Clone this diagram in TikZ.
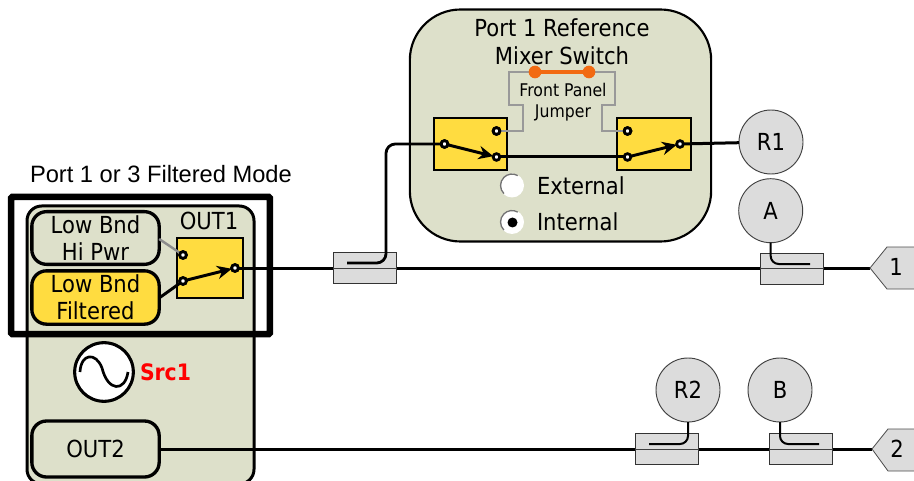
\documentclass[tikz,border=0pt]{standalone}
\usepackage{fontspec}
\setmainfont{DejaVu Sans}[FakeStretch=0.9]
\newfontfamily\arialfont{Liberation Sans}
\usetikzlibrary{arrows.meta,calc}
\definecolor{panel}{HTML}{DDE0CA}
\definecolor{swy}{HTML}{FFDC40}
\definecolor{recv}{HTML}{DCDCDC}
\definecolor{jump}{HTML}{F26A12}
\definecolor{jgray}{HTML}{999999}
\tikzset{
  x=0.75pt,y=-0.75pt,
  every node/.style={inner sep=0pt,outer sep=0pt,align=center,text=black},
  lbl/.style={font=\fontsize{17.6pt}{21pt}\selectfont},
  lblsmall/.style={font=\fontsize{13.1pt}{16pt}\selectfont},
  panelbox/.style={draw=black,fill=panel,line width=2.5pt,rectangle,rounded corners=11pt,font=\fontsize{17.6pt}{20.5pt}\selectfont},
  swbox/.style={draw=black,fill=swy,line width=1.4pt,rectangle},
  term/.style={circle,draw=black,fill=white,line width=2.1pt,minimum size=5pt},
  recvr/.style={circle,draw=black!75,fill=recv,line width=0.7pt,minimum size=48pt,font=\fontsize{17.6pt}{19pt}\selectfont},
  coupler/.style={draw=black!80,fill=recv,line width=0.7pt,rectangle,minimum width=47.5pt,minimum height=23.5pt},
  sig/.style={draw=black,line width=2.25pt},
  thin sig/.style={draw=black,line width=2.25pt},
  through/.style={draw=black!75,line width=0.7pt},
  jumpwire/.style={draw=jgray,line width=0.9pt},
  swarm/.style={draw=black,line width=2.2pt,-{Stealth[length=11pt,width=10pt]}},
  port/.style={draw=black!70,fill=recv,line width=0.6pt},
  dot/.style={circle,fill=jump,minimum size=9.5pt},
  radio/.style={circle,fill=white,minimum size=18pt},
}
\begin{document}
\begin{tikzpicture}
\useasboundingbox (0,0) rectangle (914,481);
% reference mixer panel
\node[draw=black,fill=panel,line width=1.6pt,rectangle,rounded corners=38pt,minimum width=226pt,minimum height=174pt] (mixer) at (560.5,125.5) {};
\node[lbl] (mixtitle) at (562,42) {Port 1 Reference\\Mixer Switch};
\node[lblsmall] (jumptext) at (563,102) {Front Panel\\Jumper};
% switches
\node[swbox,minimum width=55pt,minimum height=39.5pt] (swl) at (470.5,144) {};
\node[swbox,minimum width=55pt,minimum height=39.5pt] (swr) at (654,144) {};
\node[term] (la) at (444.5,144) {};
\node[term] (lb) at (496.5,131) {};
\node[term] (lc) at (496.5,157) {};
\node[term] (ra) at (627.5,131) {};
\node[term] (rb) at (627.5,157) {};
\node[term] (rc) at (680,144) {};
% jumper
\coordinate (jl) at (509,72);
\coordinate (jr) at (615,72);
\draw[jumpwire] (lb) -- (523,131) -- (523,105) -- (509,105) -- (jl) -- (jr) -- (615,105) -- (602,105) -- (602,131) -- (ra);
\node[dot] (dl) at (535,72) {};
\node[dot] (dr) at (589,72) {};
\draw[draw=jump,line width=3pt] (dl) -- (dr);
\node[term] at (lb) {};
\node[term] at (ra) {};
% mixer signal
\draw[sig] (lc) -- (rb);
\draw[swarm] (la) -- (lc);
\draw[swarm] (rb) -- (rc);
% radios
\node[radio] (ext) at (512,185.5) {};
\draw[draw=black!55,line width=1pt] (ext.center) ++(225:8.6pt) arc[start angle=225,end angle=60,radius=8.6pt];
\node[radio] (int) at (512,222) {};
\draw[draw=black!55,line width=1pt] (int.center) ++(225:8.6pt) arc[start angle=225,end angle=60,radius=8.6pt];
\node[circle,fill=black,minimum size=7.5pt] (intdot) at (512.5,222.5) {};
\node[lbl,anchor=west] (exttext) at (537,185.5) {External};
\node[lbl,anchor=west] (inttext) at (537,222) {Internal};
% main lines
\coordinate (p1tip) at (870,268);
\coordinate (p2tip) at (872,449);
% source panel
\draw[draw=black,fill=panel,line width=2.25pt,rounded corners=11pt] (27,206) rectangle (254,484);
\node[panelbox,minimum width=95.5pt,minimum height=39.5pt] (hipwr) at (95.5,238) {Low Bnd\\Hi Pwr};
\node[panelbox,fill=swy,minimum width=95.5pt,minimum height=40pt] (filt) at (95.5,297.5) {Low Bnd\\Filtered};
\node[panelbox,minimum width=95.5pt,minimum height=42pt] (out2) at (95.5,449) {OUT2};
\node[lbl] (out1) at (209,221) {OUT1};
\node[swbox,minimum width=49pt,minimum height=45pt] (swo) at (210,268) {};
\node[term] (oa) at (183,255) {};
\node[term] (ob) at (183,281) {};
\node[term] (oc) at (235,268) {};
\draw[draw=black!45,line width=1.8pt] (hipwr.east |- 0,239) -- (oa);
\draw[swarm,-] (filt.east |- 0,298) -- (ob);
\draw[swarm] (ob) -- (oc);
\node[term] at (oa) {};
\node[term] at (ob) {};
\node[term] at (oc) {};
% source
\node[circle,draw=black,fill=white,line width=2.3pt,minimum size=44pt] (src) at (104,372) {};
\draw[draw=black,line width=2pt] (80,372) .. controls (81,353) and (96,352) .. (102,368) .. controls (108,392) and (125,392) .. (128,372);
\node[anchor=west,text=red,font=\fontsize{17pt}{18pt}\selectfont\bfseries] (srct) at (140,372) {Src1};
% filtered mode frame
\node[draw=black,line width=4.9pt,rectangle,rounded corners=1pt,minimum width=194pt,minimum height=103pt] (frame) at (140.5,265.5) {};
\node[anchor=west,font=\arialfont\fontsize{17.75pt}{20pt}\selectfont] (ftitle) at (30,174) {Port 1 or 3 Filtered Mode};
% lines
\draw[sig] (oc) -- (p1tip);
\draw[thin sig] (out2.east |- 0,449) -- (635,449);
\draw[sig] (635,449) -- (p2tip);
% ports
\draw[port] (p1tip) -- (887,247) -- (916,247) -- (916,289) -- (887,289) -- cycle;
\draw[port] (p2tip) -- (888,429) -- (916,429) -- (916,471) -- (888,471) -- cycle;
\node[lbl] (p1) at (896,267) {1};
\node[lbl] (p2) at (897,449) {2};
% receivers
\node[recvr] (r1) at (771,142) {R1};
\node[recvr] (a) at (770.7,210.7) {A};
\node[recvr] (r2) at (688,390) {R2};
\node[recvr] (b) at (780,390) {B};
\draw[sig] (rc) -- (r1);
% couplers
\node[coupler] (c1) at (365,268) {};
\node[coupler] (c2) at (792,269) {};
\node[coupler] (c3) at (667,449) {};
\node[coupler] (c4) at (801,449) {};
\draw[through] (c1.west |- 0,268) -- (c1.east |- 0,268);
\draw[through] (c2.west |- 0,268) -- (c2.east |- 0,268);
\draw[through] (c3.west) -- (c3.east);
\draw[through] (c4.west) -- (c4.east);
\coordinate (c1e) at (347,263);
\coordinate (c2e) at (810,264);
\coordinate (c3e) at (649,444);
\coordinate (c4e) at (819,444);
\draw[sig,line width=2.1pt,rounded corners=7pt] (c1e) -- (386,263) -- (386,144) -- (la);
\node[term] at (la) {};
\draw[sig,line width=1.5pt,rounded corners=6pt] (a) -- (a |- c2e) -- (c2e);
\draw[sig,line width=1.5pt,rounded corners=6pt] (r2) -- (r2 |- c3e) -- (c3e);
\draw[sig,line width=1.5pt,rounded corners=6pt] (b) -- (b |- c4e) -- (c4e);
\end{tikzpicture}
\end{document}
